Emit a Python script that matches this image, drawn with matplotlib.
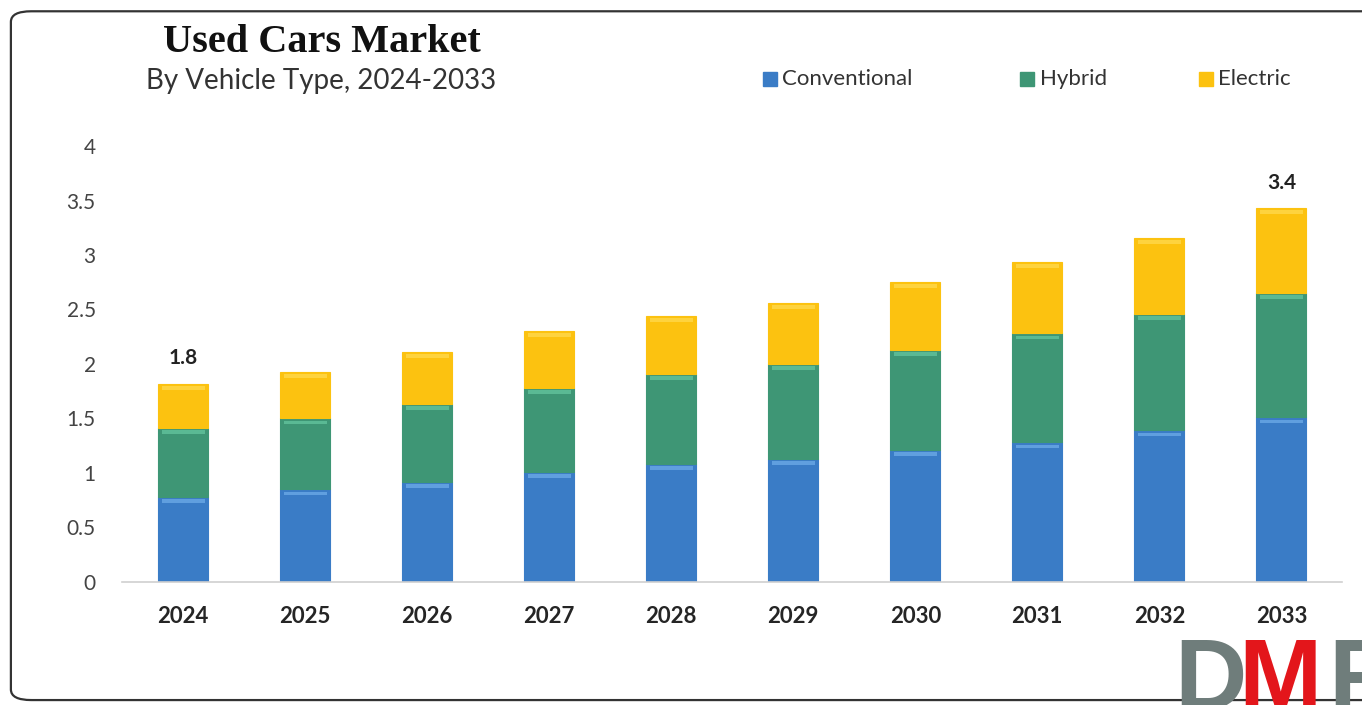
import matplotlib.pyplot as plt
from matplotlib.patches import FancyBboxPatch, Rectangle
import numpy as np

years = ["2024", "2025", "2026", "2027", "2028", "2029", "2030", "2031", "2032", "2033"]
conventional = [0.78, 0.85, 0.92, 1.01, 1.08, 1.13, 1.21, 1.28, 1.39, 1.51]
hybrid = [0.63, 0.65, 0.71, 0.77, 0.83, 0.87, 0.92, 1.00, 1.07, 1.14]
electric = [0.41, 0.43, 0.48, 0.52, 0.53, 0.56, 0.62, 0.66, 0.70, 0.78]
series_names = ["Conventional", "Hybrid", "Electric"]
colors = ["#3a7cc6", "#3e9675", "#fcc210"]
highlights = ["#6aa8e6", "#62c39c", "#ffd84a"]
y_ticks = [0, 0.5, 1, 1.5, 2, 2.5, 3, 3.5, 4]
y_tick_labels = ["0", "0.5", "1", "1.5", "2", "2.5", "3", "3.5", "4"]
labelled = {"2024": "1.8", "2033": "3.4"}

SANS = ["Lato", "DejaVu Sans"]

fig = plt.figure(figsize=(13.62, 7.05), dpi=100)
fig.patch.set_facecolor("white")

# rounded frame around the picture
frame = FancyBboxPatch((0.008, 0.007), 1.2, 0.977, boxstyle="round,pad=0,rounding_size=0.015",
                       transform=fig.transFigure, fill=False, edgecolor="#333333", linewidth=1.6)
fig.patches.append(frame)

ax = fig.add_axes([0.0896, 0.1745, 0.896, 0.6184])
x = np.arange(len(years))
width = 0.41

bottom = np.zeros(len(years))
for vals, col, hl in zip([conventional, hybrid, electric], colors, highlights):
    vals = np.array(vals)
    ax.bar(x, vals, width, bottom=bottom, color=col, edgecolor=col, linewidth=0.8, zorder=2)
    # bevel-ish highlight along the top of each segment
    ax.bar(x, 0.035, width * 0.86, bottom=bottom + vals - 0.055, color=hl, alpha=0.8,
           linewidth=0, zorder=3)
    bottom = bottom + vals

totals = bottom
for i, yr in enumerate(years):
    if yr in labelled:
        ax.text(x[i], totals[i] + 0.14, labelled[yr], ha="center", va="bottom",
                fontsize=15, fontweight="bold", color="#222222", family=SANS)

ax.set_xlim(-0.5, len(years) - 0.5)
ax.set_ylim(0, 4)
ax.set_xticks(x)
ax.set_xticklabels(years, fontsize=16, fontweight="bold", color="#252525", family=SANS)
ax.set_yticks(y_ticks)
ax.set_yticklabels(y_tick_labels, fontsize=15, color="#444444", family=SANS)
ax.tick_params(axis="both", length=0)
ax.tick_params(axis="x", pad=17)
ax.tick_params(axis="y", pad=19)
for side in ["top", "right", "left"]:
    ax.spines[side].set_visible(False)
ax.spines["bottom"].set_color("#d0d0d0")
ax.spines["bottom"].set_linewidth(1.2)

fig.text(0.236, 0.940, "Used Cars Market", ha="center", va="center", fontsize=29,
         fontweight="bold", family=["Liberation Serif", "DejaVu Serif"], color="#111111")
fig.text(0.236, 0.885, "By Vehicle Type, 2024-2033", ha="center", va="center", fontsize=20,
         family=SANS, color="#333333")

# legend placed by hand, as in the source picture
legend_x = [0.560, 0.749, 0.880]
for name, col, lx in zip(series_names, colors, legend_x):
    fig.patches.append(Rectangle((lx, 0.878), 0.0103, 0.02, transform=fig.transFigure,
                                 facecolor=col, edgecolor=col))
    fig.text(lx + 0.0145, 0.888, name, ha="left", va="center", fontsize=16,
             family=SANS, color="#333333")

# DMR logo, cut off by the lower right corner
logo_font = {"family": ["Liberation Sans", "DejaVu Sans"], "fontweight": "bold", "fontsize": 72}
fig.text(0.862, -0.035, "D", color="#6f7d7b", ha="left", va="bottom", **logo_font)
fig.text(0.909, -0.035, "M", color="#e3161b", ha="left", va="bottom", **logo_font)
fig.text(0.975, -0.035, "R", color="#6f7d7b", ha="left", va="bottom", **logo_font)

fig.savefig("out.png", dpi=100, facecolor=fig.get_facecolor())
